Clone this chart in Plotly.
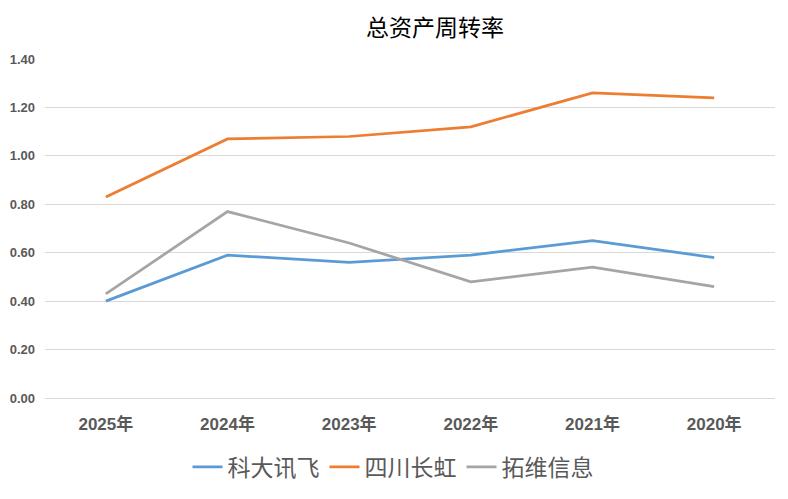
import plotly.graph_objects as go

years = ["2025年", "2024年", "2023年", "2022年", "2021年", "2020年"]
iflytek = [0.40, 0.59, 0.56, 0.59, 0.65, 0.58]
changhong = [0.83, 1.07, 1.08, 1.12, 1.26, 1.24]
tuowei = [0.43, 0.77, 0.64, 0.48, 0.54, 0.46]
y_ticks = [0.0, 0.2, 0.4, 0.6, 0.8, 1.0, 1.2, 1.4]

series = [
    ("科大讯飞", iflytek, "#5B9BD5"),
    ("四川长虹", changhong, "#ED7D31"),
    ("拓维信息", tuowei, "#A5A5A5"),
]

fig = go.Figure()
for name, vals, color in series:
    fig.add_trace(go.Scatter(x=years, y=vals, mode="lines", name=name,
                             line=dict(color=color, width=2.75)))

# page body has an 8px margin; compensate so the plot lands where the reference has it
OFF = 8
W, H = 788 - OFF, 499 - OFF
ml, mr, mt, mb = 45 - OFF, 13, 59 - OFF, 101
pw, ph = W - ml - mr, H - mt - mb

fig.update_layout(
    width=W, height=H,
    margin=dict(l=ml, r=mr, t=mt, b=mb, autoexpand=False),
    paper_bgcolor="white", plot_bgcolor="white",
    title=dict(text="总资产周转率", x=(435 - OFF) / W, xanchor="center", xref="container",
               y=1 - (28 - OFF) / H, yanchor="middle", yref="container",
               font=dict(family="Noto Sans CJK SC", size=23, color="#000000")),
    xaxis=dict(type="category", range=[-0.5, 5.5], showgrid=False,
               showline=False, ticks="", ticklabelstandoff=14, tickangle=0,
               automargin=False,
               tickfont=dict(family="Liberation Sans Narrow, Liberation Sans, Noto Sans CJK SC",
                             size=17, color="#595959", weight="bold")),
    yaxis=dict(range=[0, 1.4001], tickvals=y_ticks, tickformat=".2f",
               showgrid=True, gridcolor="#D9D9D9", gridwidth=1,
               zeroline=True, zerolinecolor="#D9D9D9", zerolinewidth=1,
               showline=False, ticks="", ticklabelstandoff=9, automargin=False,
               tickfont=dict(family="Liberation Sans", size=13, color="#595959", weight="bold")),
    legend=dict(orientation="h", x=(393 - 45) / pw, xanchor="center",
                y=(398 - 467) / ph, yanchor="middle",
                font=dict(family="Noto Sans CJK SC", size=23, color="#595959"),
                itemwidth=30, tracegroupgap=0),
    showlegend=True,
)

fig.write_html("out.html")
